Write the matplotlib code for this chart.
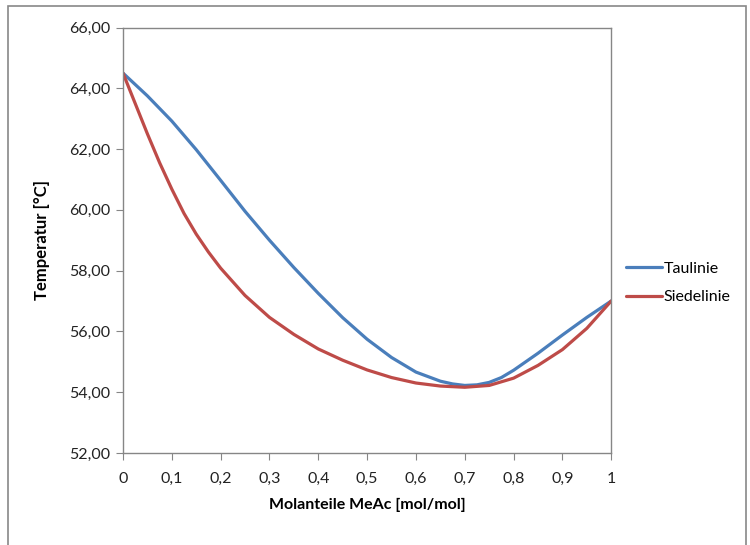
import matplotlib.pyplot as plt
from matplotlib.patches import Rectangle
from matplotlib.ticker import FuncFormatter

# Molanteile MeAc
x_tau = [0, 0.05, 0.10, 0.15, 0.20, 0.25, 0.30, 0.35, 0.40, 0.45, 0.50,
         0.55, 0.60, 0.65, 0.675, 0.70, 0.725, 0.75, 0.775, 0.80, 0.85, 0.90, 0.95, 1.00]
taulinie = [64.50, 63.75, 62.92, 61.98, 60.97, 59.95, 59.00, 58.10, 57.25, 56.45, 55.74,
            55.14, 54.66, 54.36, 54.27, 54.22, 54.24, 54.32, 54.48, 54.72, 55.28, 55.88, 56.46, 57.00]

x_siede = [0, 0.025, 0.05, 0.075, 0.10, 0.125, 0.15, 0.175, 0.20, 0.25, 0.30, 0.35, 0.40,
           0.45, 0.50, 0.55, 0.60, 0.65, 0.70, 0.75, 0.80, 0.85, 0.90, 0.95, 1.00]
siedelinie = [64.50, 63.50, 62.50, 61.55, 60.68, 59.88, 59.20, 58.61, 58.08, 57.18, 56.46, 55.90, 55.42,
              55.05, 54.73, 54.48, 54.30, 54.20, 54.16, 54.22, 54.46, 54.88, 55.40, 56.10, 57.00]

plt.rcParams['font.family'] = ['Lato', 'DejaVu Sans']

fig = plt.figure(figsize=(7.5, 5.45), dpi=100)
ax = fig.add_axes([0.164, 0.169, 0.651, 0.7805])

# Rahmen um das Diagramm
fig.patches.append(Rectangle((8 / 750, -0.1), 738 / 750, 1.1 - 6 / 545,
                             transform=fig.transFigure, fill=False,
                             edgecolor='#888888', linewidth=1.2))

ax.plot(x_tau, taulinie, color='#4A7EBB', lw=2.3, label='Taulinie', solid_capstyle='round')
ax.plot(x_siede, siedelinie, color='#BE4B48', lw=2.3, label='Siedelinie', solid_capstyle='round')

ax.set_xlim(0, 1)
ax.set_ylim(52, 66)
ax.set_xticks([i / 10 for i in range(11)])
ax.set_yticks(range(52, 67, 2))
ax.xaxis.set_major_formatter(FuncFormatter(lambda v, p: ('%g' % round(v, 1)).replace('.', ',')))
ax.yaxis.set_major_formatter(FuncFormatter(lambda v, p: ('%.2f' % v).replace('.', ',')))

for s in ax.spines.values():
    s.set_color('#868686')
    s.set_linewidth(1.0)
ax.tick_params(direction='out', length=5, color='#868686', labelsize=11.5, labelcolor='#222222')
ax.tick_params(axis='x', pad=9)
ax.tick_params(axis='y', pad=4)

ax.set_xlabel('Molanteile MeAc [mol/mol]', fontsize=11.5, fontweight='bold', labelpad=8)
ax.set_ylabel('Temperatur [°C]', fontsize=12, fontweight='bold', labelpad=14)

ax.legend(loc='center left', bbox_to_anchor=(1.0, 0.40), frameon=False, fontsize=11.5,
          handlelength=2.3, handletextpad=0.1, labelspacing=0.9, borderaxespad=0.5)

plt.savefig('out.png', dpi=100)
